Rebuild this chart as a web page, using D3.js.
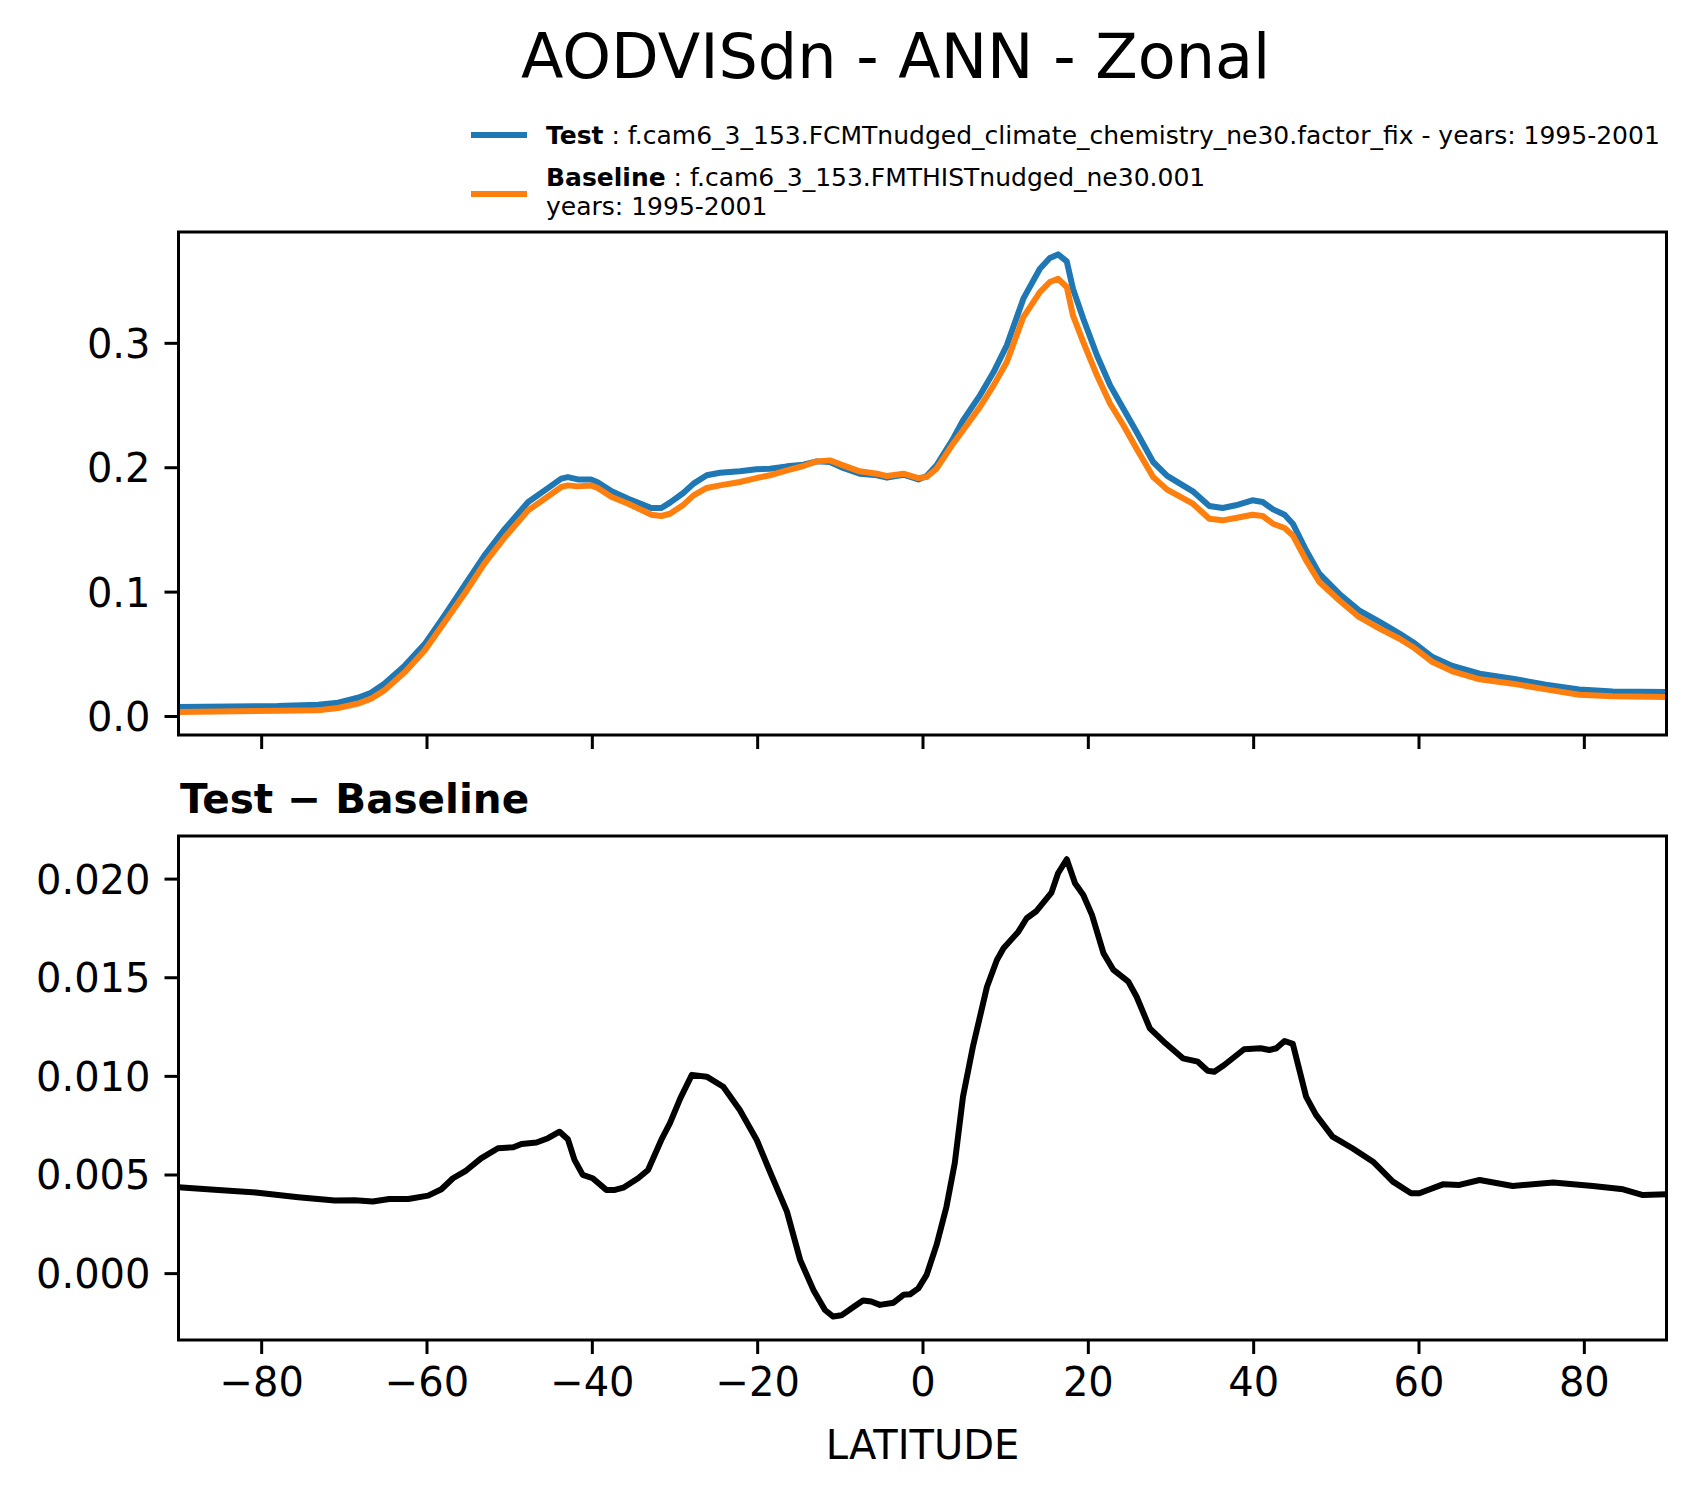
<!DOCTYPE html>
<html>
<head>
<meta charset="utf-8">
<script src="https://cdn.jsdelivr.net/npm/d3@7"></script>
<style>
    body { margin: 0; background: #ffffff; }
    svg { display: block; font-family: "DejaVu Sans", sans-serif; }
</style>
</head>
<body>
<svg class="chart"></svg>
<script>
// values

const latZonal = [-90, -78, -73.1, -70.7, -68.3, -66.7, -65.1, -62.6, -60.2, -57.8, -55.4, -53, -50.5,
    -47.7, -45.7, -43.7, -42.9, -41.7, -40.1, -39.3, -37.6, -35.6, -32.8, -31.6, -30.55, -28.9, -27.7,
    -26.1, -24.5, -22.1, -20.1, -18.45, -16.4, -14.4, -12.8, -11.2, -9.6, -7.6, -5.5, -4.3, -2.3, -0.5,
    0.5, 1.7, 3.7, 4.9, 6.95, 8.6, 10.2, 12.2, 14.2, 15.4, 16.4, 17.45, 18.2, 19.45, 21.1, 22.7, 24.3,
    25.9, 27.9, 29.6, 32.7, 34.7, 36.3, 37.9, 39.9, 41.15, 42.4, 43.8, 44.8, 46.4, 48, 50.4, 52.8, 55.3,
    57.7, 59.3, 61.7, 64.1, 67.4, 71.4, 75.4, 79.45, 83.5, 90]

const testValues = [0.0072, 0.0080, 0.0091, 0.0107, 0.0147, 0.0187, 0.0260, 0.0407, 0.0580, 0.0810,
    0.1050, 0.1290, 0.1506, 0.1720, 0.1814, 0.1908, 0.1921, 0.1902, 0.1902, 0.1880, 0.1806, 0.1747,
    0.1672, 0.1672, 0.1715, 0.1795, 0.1868, 0.1935, 0.1956, 0.1967, 0.1983, 0.1988, 0.2007, 0.2020,
    0.2047, 0.2042, 0.1994, 0.1948, 0.1935, 0.1916, 0.1940, 0.1902, 0.1929, 0.2015, 0.2229, 0.2377,
    0.2578, 0.2765, 0.2980, 0.3355, 0.3596, 0.3682, 0.3711, 0.3655, 0.3435, 0.3194, 0.2900, 0.2658,
    0.2470, 0.2283, 0.2042, 0.1930, 0.1806, 0.1688, 0.1672, 0.1694, 0.1734, 0.1720, 0.1661, 0.1618,
    0.1546, 0.1332, 0.1144, 0.0983, 0.0850, 0.0756, 0.0662, 0.0595, 0.0474, 0.0402, 0.0340, 0.0300,
    0.0252, 0.0214, 0.0198, 0.0193]

const baselineValues = [0.0032, 0.0042, 0.0046, 0.0064, 0.0099, 0.0139, 0.0206, 0.0354, 0.0528, 0.0756,
    0.0983, 0.1225, 0.1439, 0.1653, 0.1747, 0.1841, 0.1854, 0.1846, 0.1854, 0.1833, 0.1760, 0.1707,
    0.1618, 0.1608, 0.1626, 0.1699, 0.1774, 0.1833, 0.1854, 0.1881, 0.1913, 0.1935, 0.1975, 0.2010,
    0.2047, 0.2055, 0.2015, 0.1967, 0.1948, 0.1929, 0.1948, 0.1913, 0.1921, 0.1988, 0.2189, 0.2297,
    0.2484, 0.2658, 0.2846, 0.3207, 0.3408, 0.3489, 0.3515, 0.3449, 0.3221, 0.3006, 0.2739, 0.2510,
    0.2337, 0.2149, 0.1921, 0.1820, 0.1707, 0.1586, 0.1573, 0.1592, 0.1618, 0.1608, 0.1546, 0.1511,
    0.1452, 0.1251, 0.1077, 0.0930, 0.0796, 0.0702, 0.0621, 0.0555, 0.0434, 0.0359, 0.0295, 0.0260,
    0.0214, 0.0171, 0.0158, 0.0153]

const latDiff = [-90, -85.2, -80.4, -75.5, -71.1, -68.7, -66.5, -64.5, -62.2, -59.8, -58.2, -56.8, -55.2,
    -53.4, -51.35, -49.5, -48.5, -46.7, -45.3, -43.9, -42.9, -42.1, -41.1, -39.9, -38.25, -37.2, -36.2,
    -34.4, -33.2, -31.6, -30.55, -29.3, -27.9, -26.1, -24.1, -22.1, -20.05, -18.45, -16.4, -14.8, -13.2,
    -11.8, -10.8, -9.8, -8.4, -7.2, -6.2, -5.15, -3.5, -2.3, -1.5, -0.5, 0.5, 1.7, 2.9, 3.9, 4.9, 6.1,
    7.8, 9, 9.8, 11.6, 12.6, 13.8, 15.6, 16.4, 17.45, 18.45, 19.45, 20.5, 21.9, 23.1, 24.9, 25.9, 27.5,
    29.4, 31.5, 33.3, 34.5, 35.3, 36.5, 38.9, 40.9, 41.95, 42.8, 43.8, 44.8, 46.4, 47.6, 49.6, 52, 54.5,
    56.9, 59.1, 60.1, 62.95, 64.95, 67.4, 71.4, 76.3, 81.1, 84.75, 87.15, 90]

const diffValues = [0.00435, 0.00422, 0.00408, 0.00385, 0.00368, 0.00369, 0.00363, 0.00376, 0.00376,
    0.00393, 0.00425, 0.00481, 0.00520, 0.00582, 0.00633, 0.00638, 0.00655, 0.00662, 0.00684, 0.00717,
    0.00679, 0.00574, 0.00498, 0.00481, 0.00422, 0.00422, 0.00433, 0.00481, 0.00523, 0.00675, 0.00760,
    0.00886, 0.01005, 0.00996, 0.00945, 0.00827, 0.00675, 0.00514, 0.00312, 0.00067, -0.00085, -0.00187,
    -0.00220, -0.00214, -0.00173, -0.00139, -0.00144, -0.00161, -0.00150, -0.00110, -0.00107, -0.00077,
    -0.00009, 0.00143, 0.00337, 0.00557, 0.00895, 0.01148, 0.01452, 0.01587, 0.01647, 0.01731, 0.01799,
    0.01836, 0.01929, 0.02027, 0.02098, 0.01976, 0.01917, 0.01816, 0.01621, 0.01537, 0.01478, 0.01401,
    0.01241, 0.01165, 0.01089, 0.01072, 0.01026, 0.01021, 0.01055, 0.01135, 0.01140, 0.01131, 0.01140,
    0.01177, 0.01162, 0.00895, 0.00802, 0.00692, 0.00633, 0.00565, 0.00464, 0.00405, 0.00405, 0.00450,
    0.00447, 0.00472, 0.00442, 0.00459, 0.00442, 0.00425, 0.00396, 0.00400]

const xTicks = [-80, -60, -40, -20, 0, 20, 40, 60, 80]
const topTicks = [0, 0.1, 0.2, 0.3]
const diffTicks = [0, 0.005, 0.01, 0.015, 0.02]

const titleText = "AODVISdn - ANN - Zonal"
const testName = "f.cam6_3_153.FCMTnudged_climate_chemistry_ne30.factor_fix - years: 1995-2001"
const baseName = "f.cam6_3_153.FMTHISTnudged_ne30.001"
const baseYears = "years: 1995-2001"

const svg = d3.select("svg.chart")
    .attr("width", 1696)
    .attr("height", 1496)

svg.append("rect")
    .attr("width", 1696)
    .attr("height", 1496)
    .attr("fill", "#ffffff")

// shared x scale, one y scale for each panel
const left = 178.5
const right = 1666.5
const scaleX = d3.scaleLinear().domain([-90, 90]).range([left, right])
const scaleTop = d3.scaleLinear().domain([-0.01527, 0.3891]).range([735, 232])
const scaleDiff = d3.scaleLinear().domain([-0.00339, 0.02216]).range([1340, 836])

const defs = svg.append("defs")
defs.append("clipPath").attr("id", "clipTop")
    .append("rect").attr("x", left).attr("y", 232).attr("width", right - left).attr("height", 503)
defs.append("clipPath").attr("id", "clipDiff")
    .append("rect").attr("x", left).attr("y", 836).attr("width", right - left).attr("height", 504)

const styleAxis = function(g) {
    g.select(".domain").remove()
    g.selectAll(".tick line").attr("stroke", "#000").attr("stroke-width", 3)
    g.selectAll(".tick text").attr("fill", "#000").style("font-size", "40px")
        .style("font-family", "DejaVu Sans")
}

// top panel axes
svg.append("g")
    .attr("transform", `translate(${left}, 0)`)
    .call(d3.axisLeft(scaleTop).tickValues(topTicks).tickSize(14).tickPadding(14).tickFormat(d3.format(".1f")))
    .call(styleAxis)
    .selectAll(".tick text").attr("dy", "0.36em")

svg.append("g")
    .attr("transform", "translate(0, 735)")
    .call(d3.axisBottom(scaleX).tickValues(xTicks).tickSize(14).tickFormat(""))
    .call(styleAxis)

// bottom panel axes
svg.append("g")
    .attr("transform", `translate(${left}, 0)`)
    .call(d3.axisLeft(scaleDiff).tickValues(diffTicks).tickSize(14).tickPadding(14).tickFormat(d3.format(".3f")))
    .call(styleAxis)
    .selectAll(".tick text").attr("dy", "0.36em")

svg.append("g")
    .attr("transform", "translate(0, 1340)")
    .call(d3.axisBottom(scaleX).tickValues(xTicks).tickSize(14).tickPadding(14).tickFormat(d3.format("d")))
    .call(styleAxis)

// lines
const lineTop = d3.line()
    .x((d, i) => scaleX(latZonal[i]))
    .y((d, i) => scaleTop(d))

const lineDiff = d3.line()
    .x((d, i) => scaleX(latDiff[i]))
    .y((d, i) => scaleDiff(d))

svg.append("path")
    .attr("d", lineTop(testValues))
    .attr("clip-path", "url(#clipTop)")
    .attr("fill", "none")
    .attr("stroke", "#1f77b4")
    .attr("stroke-width", 6)
    .attr("stroke-linejoin", "round")

svg.append("path")
    .attr("d", lineTop(baselineValues))
    .attr("clip-path", "url(#clipTop)")
    .attr("fill", "none")
    .attr("stroke", "#ff7f0e")
    .attr("stroke-width", 6)
    .attr("stroke-linejoin", "round")

svg.append("path")
    .attr("d", lineDiff(diffValues))
    .attr("clip-path", "url(#clipDiff)")
    .attr("fill", "none")
    .attr("stroke", "#000000")
    .attr("stroke-width", 6)
    .attr("stroke-linejoin", "round")

// frames
svg.append("rect")
    .attr("x", left).attr("y", 232).attr("width", right - left).attr("height", 503)
    .attr("fill", "none").attr("stroke", "#000").attr("stroke-width", 3)

svg.append("rect")
    .attr("x", left).attr("y", 836).attr("width", right - left).attr("height", 504)
    .attr("fill", "none").attr("stroke", "#000").attr("stroke-width", 3)

// texts
svg.append("text")
    .attr("x", 521)
    .attr("y", 78)
    .attr("font-size", "62px")
    .attr("fill", "#000")
    .text(titleText)

svg.append("text")
    .attr("x", 180)
    .attr("y", 813)
    .attr("font-size", "40.5px")
    .attr("font-weight", "bold")
    .attr("fill", "#000")
    .text("Test \u2212 Baseline")

svg.append("text")
    .attr("x", (left + right) / 2)
    .attr("y", 1459)
    .attr("text-anchor", "middle")
    .attr("font-size", "40px")
    .attr("fill", "#000")
    .text("LATITUDE")

// legend
const legend = svg.append("g")

legend.append("line")
    .attr("x1", 471).attr("x2", 527).attr("y1", 135).attr("y2", 135)
    .attr("stroke", "#1f77b4").attr("stroke-width", 6)

legend.append("line")
    .attr("x1", 471).attr("x2", 527).attr("y1", 194).attr("y2", 194)
    .attr("stroke", "#ff7f0e").attr("stroke-width", 6)

const testLabel = legend.append("text")
    .attr("x", 546).attr("y", 144)
    .attr("font-size", "25px").attr("fill", "#000")
testLabel.append("tspan").attr("font-weight", "bold").text("Test")
testLabel.append("tspan").text(" : " + testName)

const baseLabel = legend.append("text")
    .attr("x", 546).attr("y", 186)
    .attr("font-size", "25px").attr("fill", "#000")
baseLabel.append("tspan").attr("font-weight", "bold").text("Baseline")
baseLabel.append("tspan").text(" : " + baseName)

legend.append("text")
    .attr("x", 546).attr("y", 215)
    .attr("font-size", "25px").attr("fill", "#000")
    .text(baseYears)
</script>
</body>
</html>
